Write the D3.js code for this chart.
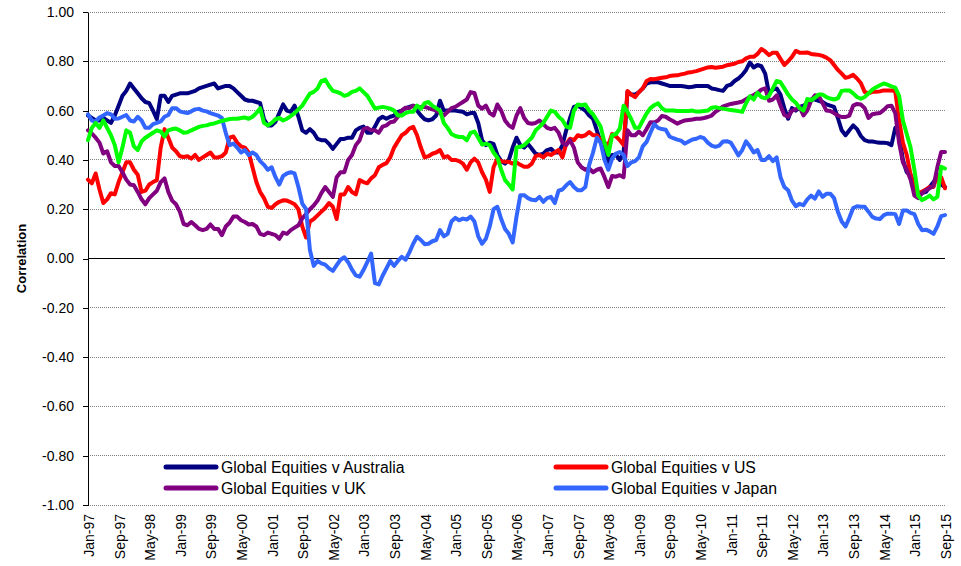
<!DOCTYPE html>
<html>
<head>
<meta charset="utf-8">
<script src="https://cdn.jsdelivr.net/npm/d3@7"></script>
<style>
body { margin: 0; background: #fff; }
svg { font-family: Arial, "Liberation Sans", sans-serif; }
</style>
</head>
<body>
<svg id="chart" width="961" height="566"></svg>
<script>

// monthly correlations, Jan-97 .. Sep-15 (one row per year)
var australia = [
    0.58,0.57,0.56,0.56,0.57,0.56,0.55,0.58,0.62,0.66,0.68,0.71,
    0.69,0.67,0.65,0.635,0.63,0.60,0.565,0.66,0.66,0.635,0.66,0.665,
    0.67,0.67,0.67,0.675,0.68,0.69,0.695,0.70,0.705,0.71,0.69,0.695,
    0.70,0.70,0.69,0.675,0.66,0.645,0.64,0.64,0.635,0.63,0.565,0.54,
    0.54,0.555,0.59,0.625,0.60,0.595,0.62,0.575,0.52,0.51,0.525,0.51,
    0.485,0.48,0.48,0.465,0.445,0.465,0.485,0.485,0.49,0.49,0.52,0.53,
    0.535,0.51,0.51,0.535,0.565,0.575,0.567,0.575,0.58,0.595,0.60,0.61,
    0.615,0.62,0.60,0.58,0.565,0.56,0.565,0.58,0.64,0.60,0.60,0.60,
    0.60,0.597,0.595,0.585,0.59,0.59,0.55,0.48,0.46,0.47,0.465,0.42,
    0.395,0.385,0.40,0.45,0.49,0.46,0.45,0.465,0.445,0.425,0.42,0.425,
    0.44,0.445,0.43,0.43,0.46,0.52,0.57,0.615,0.62,0.61,0.60,0.58,
    0.567,0.52,0.47,0.43,0.39,0.42,0.42,0.40,0.43,0.675,0.665,0.665,
    0.675,0.69,0.71,0.715,0.715,0.715,0.71,0.705,0.70,0.70,0.70,0.70,
    0.698,0.695,0.697,0.70,0.70,0.70,0.70,0.69,0.687,0.683,0.68,0.70,
    0.705,0.72,0.73,0.745,0.765,0.795,0.775,0.785,0.78,0.75,0.67,0.685,
    0.69,0.665,0.61,0.567,0.61,0.60,0.615,0.62,0.63,0.645,0.645,0.64,
    0.635,0.625,0.62,0.615,0.57,0.52,0.50,0.52,0.54,0.525,0.497,0.48,
    0.475,0.475,0.472,0.47,0.47,0.468,0.46,0.53,0.50,0.40,0.35,0.34,
    0.30,0.265,0.265,0.27,0.29,0.31,0.33,0.30,0.29
];

var us = [
    0.32,0.305,0.345,0.28,0.225,0.24,0.265,0.26,0.31,0.35,0.39,0.39,
    0.36,0.34,0.27,0.275,0.30,0.31,0.318,0.45,0.525,0.49,0.45,0.435,
    0.415,0.412,0.415,0.405,0.42,0.40,0.41,0.42,0.43,0.41,0.41,0.415,
    0.43,0.49,0.495,0.47,0.455,0.45,0.43,0.37,0.31,0.27,0.245,0.21,
    0.205,0.22,0.23,0.236,0.235,0.228,0.22,0.20,0.13,0.085,0.15,0.16,
    0.175,0.19,0.205,0.225,0.21,0.16,0.26,0.26,0.29,0.27,0.26,0.318,
    0.31,0.305,0.325,0.338,0.37,0.38,0.387,0.41,0.45,0.475,0.50,0.51,
    0.527,0.534,0.50,0.45,0.41,0.415,0.425,0.43,0.44,0.41,0.415,0.40,
    0.40,0.395,0.385,0.36,0.39,0.405,0.39,0.35,0.32,0.27,0.37,0.405,
    0.395,0.392,0.392,0.385,0.39,0.38,0.372,0.372,0.385,0.415,0.42,0.41,
    0.425,0.42,0.43,0.44,0.41,0.465,0.486,0.48,0.50,0.495,0.50,0.513,
    0.50,0.50,0.48,0.47,0.46,0.505,0.495,0.48,0.46,0.68,0.665,0.655,
    0.675,0.69,0.72,0.728,0.727,0.73,0.733,0.735,0.74,0.742,0.743,0.747,
    0.75,0.755,0.757,0.76,0.765,0.77,0.775,0.777,0.774,0.776,0.778,0.784,
    0.787,0.79,0.797,0.80,0.812,0.818,0.818,0.83,0.85,0.84,0.825,0.835,
    0.835,0.81,0.785,0.80,0.818,0.842,0.835,0.835,0.836,0.83,0.828,0.826,
    0.822,0.815,0.805,0.785,0.765,0.75,0.733,0.737,0.745,0.73,0.712,0.676,
    0.67,0.676,0.676,0.678,0.682,0.682,0.682,0.678,0.56,0.47,0.42,0.34,
    0.28,0.265,0.272,0.28,0.29,0.29,0.34,0.33,0.285
];

var uk = [
    0.52,0.507,0.49,0.47,0.426,0.435,0.39,0.375,0.375,0.35,0.32,0.30,
    0.297,0.27,0.24,0.22,0.245,0.26,0.275,0.31,0.325,0.27,0.235,0.22,
    0.19,0.14,0.135,0.148,0.135,0.12,0.115,0.12,0.138,0.12,0.12,0.095,
    0.13,0.145,0.17,0.17,0.155,0.148,0.138,0.14,0.13,0.10,0.095,0.105,
    0.10,0.095,0.08,0.105,0.10,0.115,0.125,0.135,0.162,0.18,0.20,0.215,
    0.235,0.265,0.29,0.27,0.25,0.33,0.35,0.35,0.40,0.42,0.46,0.48,
    0.525,0.53,0.52,0.52,0.51,0.535,0.54,0.553,0.556,0.575,0.60,0.612,
    0.61,0.62,0.615,0.615,0.615,0.61,0.605,0.60,0.59,0.58,0.595,0.61,
    0.615,0.625,0.635,0.645,0.675,0.672,0.62,0.608,0.62,0.59,0.58,0.625,
    0.60,0.56,0.54,0.53,0.58,0.61,0.57,0.55,0.547,0.55,0.56,0.545,
    0.53,0.525,0.53,0.51,0.47,0.46,0.48,0.45,0.39,0.37,0.36,0.365,
    0.35,0.36,0.365,0.33,0.29,0.335,0.332,0.338,0.33,0.52,0.50,0.50,
    0.515,0.50,0.525,0.553,0.552,0.56,0.578,0.575,0.565,0.557,0.547,0.554,
    0.56,0.562,0.564,0.567,0.567,0.57,0.574,0.58,0.595,0.605,0.617,0.622,
    0.627,0.63,0.633,0.637,0.646,0.655,0.663,0.672,0.685,0.69,0.64,0.645,
    0.662,0.62,0.582,0.575,0.60,0.605,0.615,0.58,0.60,0.64,0.662,0.66,
    0.63,0.60,0.598,0.59,0.58,0.574,0.574,0.58,0.62,0.627,0.625,0.61,
    0.57,0.585,0.588,0.59,0.603,0.618,0.62,0.59,0.47,0.39,0.36,0.32,
    0.255,0.245,0.265,0.277,0.285,0.295,0.37,0.432,0.432
];

var japan = [
    0.585,0.56,0.556,0.572,0.58,0.59,0.585,0.567,0.568,0.575,0.582,0.56,
    0.556,0.575,0.56,0.53,0.53,0.545,0.55,0.556,0.575,0.582,0.61,0.61,
    0.597,0.593,0.59,0.597,0.605,0.607,0.60,0.597,0.59,0.585,0.58,0.57,
    0.51,0.46,0.466,0.45,0.43,0.44,0.42,0.43,0.42,0.395,0.38,0.36,
    0.37,0.33,0.30,0.335,0.345,0.35,0.345,0.29,0.223,0.20,0.035,-0.03,
    -0.01,-0.02,-0.025,-0.04,-0.05,-0.027,-0.005,0.005,-0.015,-0.045,-0.068,-0.074,
    -0.047,-0.015,0.02,-0.10,-0.105,-0.07,-0.04,-0.01,-0.03,-0.01,0.007,-0.005,
    0.025,0.06,0.088,0.075,0.058,0.06,0.07,0.075,0.115,0.09,0.10,0.15,
    0.165,0.155,0.162,0.158,0.17,0.15,0.09,0.06,0.08,0.13,0.20,0.21,
    0.16,0.12,0.10,0.065,0.17,0.257,0.257,0.245,0.238,0.236,0.25,0.23,
    0.245,0.25,0.225,0.275,0.28,0.297,0.31,0.29,0.277,0.277,0.29,0.38,
    0.43,0.49,0.47,0.40,0.36,0.405,0.426,0.432,0.42,0.375,0.39,0.395,
    0.41,0.455,0.473,0.51,0.545,0.53,0.525,0.522,0.495,0.488,0.482,0.478,
    0.466,0.475,0.483,0.486,0.493,0.488,0.47,0.458,0.453,0.458,0.475,0.476,
    0.47,0.445,0.418,0.44,0.475,0.455,0.43,0.44,0.40,0.40,0.415,0.395,
    0.41,0.33,0.29,0.277,0.235,0.212,0.222,0.216,0.24,0.255,0.243,0.272,
    0.25,0.263,0.263,0.245,0.19,0.15,0.13,0.165,0.205,0.212,0.21,0.21,
    0.19,0.169,0.162,0.16,0.176,0.182,0.182,0.18,0.14,0.195,0.195,0.185,
    0.18,0.14,0.115,0.117,0.11,0.10,0.13,0.172,0.176
];

// fifth series, drawn in the chart but left out of the legend
var unlabelled = [
    0.48,0.53,0.55,0.53,0.56,0.53,0.50,0.46,0.39,0.45,0.52,0.51,
    0.455,0.44,0.475,0.49,0.50,0.51,0.52,0.515,0.495,0.52,0.525,0.527,
    0.52,0.51,0.512,0.52,0.527,0.534,0.538,0.54,0.545,0.548,0.553,0.558,
    0.562,0.566,0.567,0.567,0.57,0.572,0.567,0.575,0.59,0.61,0.55,0.54,
    0.55,0.565,0.57,0.56,0.567,0.578,0.59,0.605,0.62,0.645,0.669,0.676,
    0.69,0.72,0.726,0.70,0.68,0.676,0.67,0.66,0.665,0.676,0.68,0.69,
    0.675,0.66,0.635,0.608,0.612,0.615,0.612,0.608,0.60,0.58,0.58,0.59,
    0.595,0.595,0.62,0.608,0.63,0.635,0.62,0.61,0.60,0.55,0.53,0.505,
    0.497,0.493,0.493,0.48,0.51,0.515,0.49,0.462,0.466,0.46,0.43,0.41,
    0.36,0.318,0.30,0.28,0.45,0.453,0.46,0.475,0.49,0.52,0.534,0.55,
    0.575,0.60,0.595,0.575,0.562,0.535,0.53,0.60,0.625,0.622,0.625,0.60,
    0.585,0.56,0.535,0.47,0.42,0.50,0.505,0.527,0.62,0.595,0.565,0.53,
    0.53,0.56,0.588,0.61,0.622,0.63,0.61,0.60,0.60,0.60,0.598,0.598,
    0.598,0.598,0.60,0.596,0.596,0.598,0.60,0.612,0.614,0.61,0.608,0.605,
    0.602,0.60,0.598,0.595,0.63,0.658,0.645,0.672,0.655,0.65,0.66,0.69,
    0.72,0.715,0.69,0.665,0.645,0.632,0.61,0.60,0.647,0.642,0.652,0.665,
    0.665,0.655,0.649,0.645,0.65,0.68,0.682,0.682,0.67,0.655,0.648,0.655,
    0.67,0.685,0.695,0.703,0.71,0.705,0.698,0.693,0.66,0.56,0.505,0.45,
    0.36,0.255,0.237,0.245,0.255,0.24,0.25,0.372,0.365
];

var seriesNames = ['Global Equities v Australia', 'Global Equities v US',
                   'Global Equities v UK', 'Global Equities v Japan', ''];
var seriesColors = ['#000080', '#ff0000', '#800080', '#3366ff', '#00ff00'];
var yTicks = [-1.0, -0.8, -0.6, -0.4, -0.2, 0.0, 0.2, 0.4, 0.6, 0.8, 1.0];
var labelEvery = 8;   // one x label every 8 months

d3.select(window).on('load', init);

function init() {
    var svg = d3.select('#chart');
    var left = 88, right = 945, top = 12, bottom = 505;

    var fmt = d3.timeFormat('%b-%y');
    var months = d3.timeMonth.range(new Date(1997, 0, 1), new Date(2015, 9, 1))
        .map(function(d){ return fmt(d); });

    var xScale = d3.scalePoint()
        .domain(months)
        .range([left, right]);

    var yScale = d3.scaleLinear()
        .domain([-1, 1])
        .range([bottom, top]);

    // gridlines, dotted; zero line is the category axis (solid)
    svg.append('g')
        .selectAll('line')
        .data(yTicks)
        .enter()
        .append('line')
        .attr('x1', left)
        .attr('x2', right)
        .attr('y1', function(d){ return yScale(d); })
        .attr('y2', function(d){ return yScale(d); })
        .attr('stroke', function(d){ return d === 0 ? '#000' : '#808080'; })
        .attr('stroke-width', 1)
        .attr('stroke-dasharray', function(d){ return d === 0 ? null : '1,1'; })
        .attr('shape-rendering', 'crispEdges');

    var yAxis = d3.axisLeft(yScale)
        .tickValues(yTicks)
        .tickSizeInner(5)
        .tickSizeOuter(0)
        .tickPadding(9)
        .tickFormat(function(d){ return d.toFixed(2); });

    var gy = svg.append('g')
        .attr('transform', 'translate(' + left + ',0)')
        .call(yAxis);
    gy.selectAll('text')
        .style('font-size', '14px')
        .style('font-family', 'Arial, "Liberation Sans", sans-serif')
        .attr('fill', '#000');
    gy.selectAll('line, path')
        .attr('stroke', '#000')
        .attr('shape-rendering', 'crispEdges');

    svg.append('text')
        .attr('transform', 'translate(21,' + yScale(0) + ') rotate(-90)')
        .attr('text-anchor', 'middle')
        .attr('dy', '0.35em')
        .style('font-size', '13px')
        .style('font-weight', 'bold')
        .text('Correlation');

    // rotated month labels along the bottom
    svg.append('g')
        .selectAll('text')
        .data(months.filter(function(d, i){ return i % labelEvery === 0; }))
        .enter()
        .append('text')
        .attr('transform', function(d){
            return 'translate(' + (xScale(d) + 1) + ',' + (bottom + 9) + ') rotate(-90)';
        })
        .attr('text-anchor', 'end')
        .attr('dy', '0.35em')
        .style('font-size', '14px')
        .text(function(d){ return d; });

    var all = [australia, us, uk, japan, unlabelled];

    var line = d3.line()
        .x(function(d, i){ return xScale(months[i]); })
        .y(function(d){ return yScale(d); });

    svg.append('g')
        .selectAll('path')
        .data(all)
        .enter()
        .append('path')
        .attr('d', line)
        .attr('fill', 'none')
        .attr('stroke', function(d, i){ return seriesColors[i]; })
        .attr('stroke-width', 4)
        .attr('stroke-linejoin', 'round')
        .attr('stroke-linecap', 'round');

    // legend, two columns
    var legendPos = [[166, 467], [556, 467], [166, 488], [556, 488]];
    var legend = svg.append('g')
        .selectAll('g')
        .data([0, 1, 2, 3])
        .enter()
        .append('g')
        .attr('transform', function(i){
            return 'translate(' + legendPos[i][0] + ',' + legendPos[i][1] + ')';
        });

    legend.append('line')
        .attr('x1', 0)
        .attr('x2', 50)
        .attr('stroke', function(i){ return seriesColors[i]; })
        .attr('stroke-width', 5)
        .attr('stroke-linecap', 'round');

    legend.append('text')
        .attr('x', 55)
        .attr('dy', '0.35em')
        .style('font-size', '15.8px')
        .text(function(i){ return seriesNames[i]; });
}
</script>
</body>
</html>
